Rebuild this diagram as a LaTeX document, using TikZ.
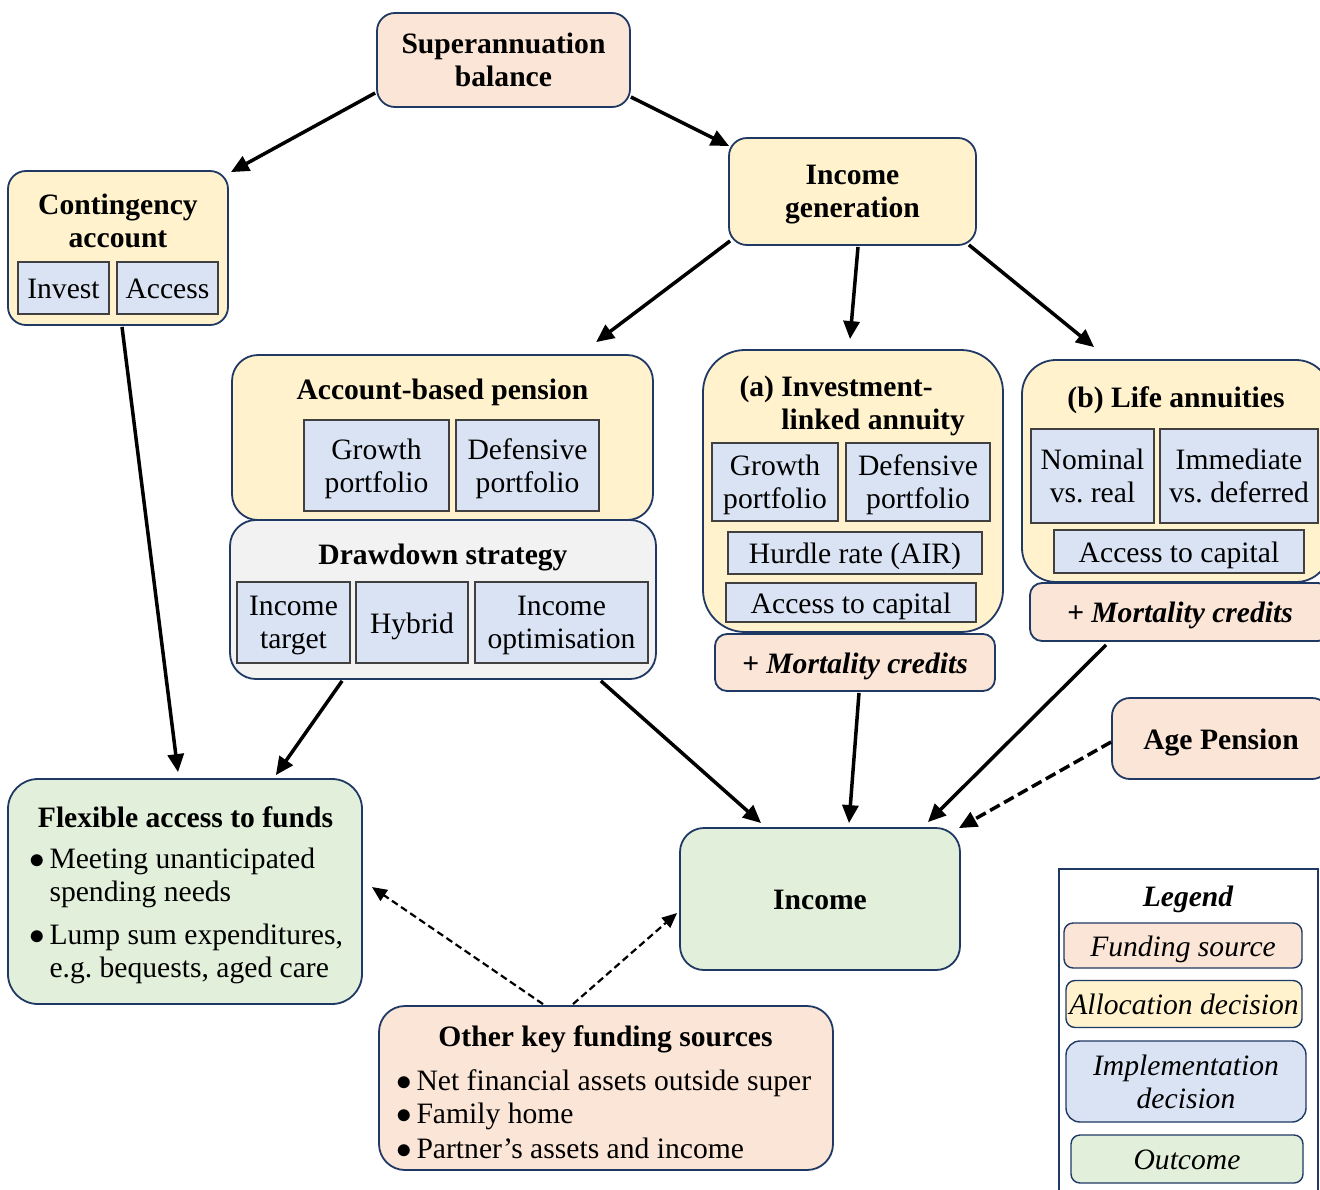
\documentclass[tikz,border=0pt]{standalone}
\usepackage{fontspec}
\setmainfont{Liberation Serif}
\usetikzlibrary{arrows.meta,calc}
\definecolor{navy}{RGB}{31,56,100}
\definecolor{fundbg}{RGB}{251,229,214}
\definecolor{allocbg}{RGB}{255,242,204}
\definecolor{implbg}{RGB}{218,227,243}
\definecolor{outbg}{RGB}{226,239,218}
\definecolor{drawbg}{RGB}{242,242,242}
\newcommand{\txt}{\fontsize{29.6}{33}\selectfont}
\newcommand{\bul}{\makebox[20pt][l]{\raisebox{-0.5pt}{\scalebox{1.25}{$\bullet$}}}}

\begin{document}
\begin{tikzpicture}[x=1pt, y=-1pt,
    every node/.style={font=\txt, text=black},
    wh/.style 2 args={minimum width=#1, minimum height=#2},
    one/.style={text height=21pt, text depth=0pt},
    two/.style={text depth=0pt},
    box/.style={draw=navy, line width=1.8pt, rounded corners=18pt, inner sep=0pt, align=center},
    fund/.style={box, fill=fundbg},
    alloc/.style={box, fill=allocbg},
    outc/.style={box, fill=outbg},
    sub/.style={draw=black!75, line width=1.4pt, fill=implbg, inner sep=0pt, align=center},
    key/.style={draw=navy, line width=1.4pt, rounded corners=9pt, inner sep=0pt, align=center,
                font=\txt\itshape},
    title/.style={font=\txt\bfseries, align=center},
    arrow/.style={-{Triangle[length=18pt,width=16pt]}, line width=3.5pt},
    dasharrow/.style={arrow, dash pattern=on 11pt off 5pt},
    thinarrow/.style={-{Triangle[length=15pt,width=13pt]}, line width=2.2pt, dash pattern=on 7pt off 4pt}
]
    \useasboundingbox (0,0) rectangle (1320,1189);

    % Funding source at the top
    \node[fund, two, wh={253pt}{94pt}, font=\txt\bfseries] (super) at (503.5,60) {Superannuation\\balance};

    % Contingency account
    \node[alloc, wh={220pt}{154pt}] (cont) at (118,248) {};
    \node[title] (conttitle) at (118,221) {Contingency\\account};
    \node[sub, one, wh={91pt}{52pt}] (invest) at (63.5,288) {Invest};
    \node[sub, one, wh={101pt}{52pt}] (access) at (167.5,288) {Access};

    % Income generation
    \node[alloc, two, wh={247pt}{107pt}, font=\txt\bfseries] (incgen) at (852.5,191.5) {Income\\generation};

    % Account-based pension + drawdown
    \node[alloc, wh={421pt}{165pt}, rounded corners=26pt] (abp) at (442.5,437.5) {};
    \node[title] (abptitle) at (442.5,392) {Account-based pension};
    \node[sub, two, wh={145pt}{91pt}] (abpgrow) at (376.5,465.5) {Growth\\portfolio};
    \node[sub, two, wh={143pt}{91pt}] (abpdef) at (527.5,465.5) {Defensive\\portfolio};

    \node[box, fill=drawbg, wh={426pt}{159pt}, rounded corners=26pt] (draw) at (443,599.5) {};
    \node[title] (drawtitle) at (443,557) {Drawdown strategy};
    \node[sub, two, wh={113pt}{81pt}] (target) at (293.5,622.5) {Income\\target};
    \node[sub, one, wh={112pt}{81pt}] (hybrid) at (412,622.5) {Hybrid};
    \node[sub, two, wh={173pt}{81pt}] (optim) at (561.5,622.5) {Income\\optimisation};

    % (a) Investment-linked annuity
    \node[alloc, wh={300pt}{282pt}, rounded corners=42pt] (ila) at (853,491) {};
    \node[title, anchor=west, align=left] (ilatitle) at (736,405.5) {(a) Investment-\\\hphantom{(a) }linked annuity};
    \node[sub, two, wh={126pt}{78pt}] (ilagrow) at (775,482) {Growth\\portfolio};
    \node[sub, two, wh={144pt}{78pt}] (iladef) at (918,482) {Defensive\\portfolio};
    \node[sub, one, wh={254pt}{42pt}] (hurdle) at (855,553) {Hurdle rate (AIR)};
    \node[sub, one, wh={250pt}{39pt}] (ilacap) at (851,602.5) {Access to capital};
    \node[fund, one, wh={280pt}{57pt}, rounded corners=12pt, font=\txt\bfseries\itshape] (morta) at (855,662.5) {+ Mortality credits};

    % (b) Life annuities
    \node[alloc, wh={308pt}{222pt}, rounded corners=34pt] (life) at (1176,471) {};
    \node[title] (lifetitle) at (1176,400) {(b) Life annuities};
    \node[sub, two, wh={123pt}{94pt}] (nominal) at (1092.5,476) {Nominal\\vs.\ real};
    \node[sub, two, wh={158pt}{94pt}] (immed) at (1239,476) {Immediate\\vs.\ deferred};
    \node[sub, one, wh={250pt}{43pt}] (lifecap) at (1179,551.5) {Access to capital};
    \node[fund, one, wh={300pt}{58pt}, rounded corners=12pt, font=\txt\bfseries\itshape] (mortb) at (1180,612) {+ Mortality credits};

    % Age Pension
    \node[fund, one, wh={218pt}{81pt}, font=\txt\bfseries] (age) at (1221,738.5) {Age Pension};

    % Outcomes
    \node[outc, one, wh={280pt}{142pt}, rounded corners=24pt, font=\txt\bfseries] (income) at (820,899) {Income};
    \node[outc, wh={354pt}{225pt}, rounded corners=30pt] (flex) at (185,891.5) {};
    \node[title] (flextitle) at (185.5,817) {Flexible access to funds};
    \node[anchor=west, align=left] (flexlist) at (26,915.5)
        {\bul Meeting unanticipated\\\hphantom{\bul}spending needs\\[10pt]%
         \bul Lump sum expenditures,\\\hphantom{\bul}e.g.\ bequests, aged care};

    % Other key funding sources
    \node[fund, wh={454pt}{164pt}, rounded corners=26pt] (other) at (606,1088) {};
    \node[title] (othertitle) at (605.5,1039) {Other key funding sources};
    \node[anchor=west, align=left] (otherlist) at (393,1114)
        {\bul Net financial assets outside super\\\bul Family home\\[2pt]%
         \bul Partner’s assets and income};

    % Legend
    \node[draw=navy, line width=1.4pt, wh={259pt}{340pt}] (legend) at (1188.5,1039) {};
    \node[font=\txt\bfseries\itshape] (legtitle) at (1188,899) {Legend};
    \node[key, one, fill=fundbg, wh={238pt}{45pt}] (keyfund) at (1183,945.5) {Funding source};
    \node[key, one, fill=allocbg, wh={236pt}{47pt}] (keyalloc) at (1184,1004) {Allocation decision};
    \node[key, two, fill=implbg, wh={240pt}{81pt}, rounded corners=14pt] (keyimpl) at (1186,1081.5) {Implementation\\decision};
    \node[key, one, fill=outbg, wh={232pt}{48pt}] (keyout) at (1187,1159) {Outcome};

    % Arrows
    \draw[arrow] ($(super.west)+(-1,33)$) -- ($(cont.north east)+(2,2)$);
    \draw[arrow] ($(super.east)+(0,37)$) -- ($(incgen.west)+(1,-45.5)$);
    \draw[arrow] ($(incgen.south west)+(2,-5)$) -- ($(abp.north west)+(365,-12)$);
    \draw[arrow] ($(incgen.south)+(5.5,1)$) -- ($(ila.north)+(-3,-10)$);
    \draw[arrow] ($(incgen.south east)+(-8,-1)$) -- ($(life.north west)+(73,-12)$);
    \draw[arrow] ($(cont.south)+(4,1)$) -- ($(flex.north)+(-7,-6)$);
    \draw[arrow] ($(draw.south west)+(113,1)$) -- ($(flex.north east)+(-87,-3)$);
    \draw[arrow] ($(draw.south east)+(-56,1)$) -- ($(income.north west)+(82,-4)$);
    \draw[arrow] ($(morta.south)+(4,1)$) -- ($(income.north)+(29,-4)$);
    \draw[arrow] ($(mortb.south west)+(77,3)$) -- ($(income.north east)+(-33,-5)$);
    \draw[dasharrow] ($(age.west)+(0,3.5)$) -- ($(income.north east)+(-2,1)$);
    \draw[thinarrow] ($(other.north)+(-63,-1)$) -- ($(flex.east)+(9,-4.5)$);
    \draw[thinarrow] ($(other.north)+(-33,-1)$) -- ($(income.west)+(-2,14)$);
\end{tikzpicture}
\end{document}
